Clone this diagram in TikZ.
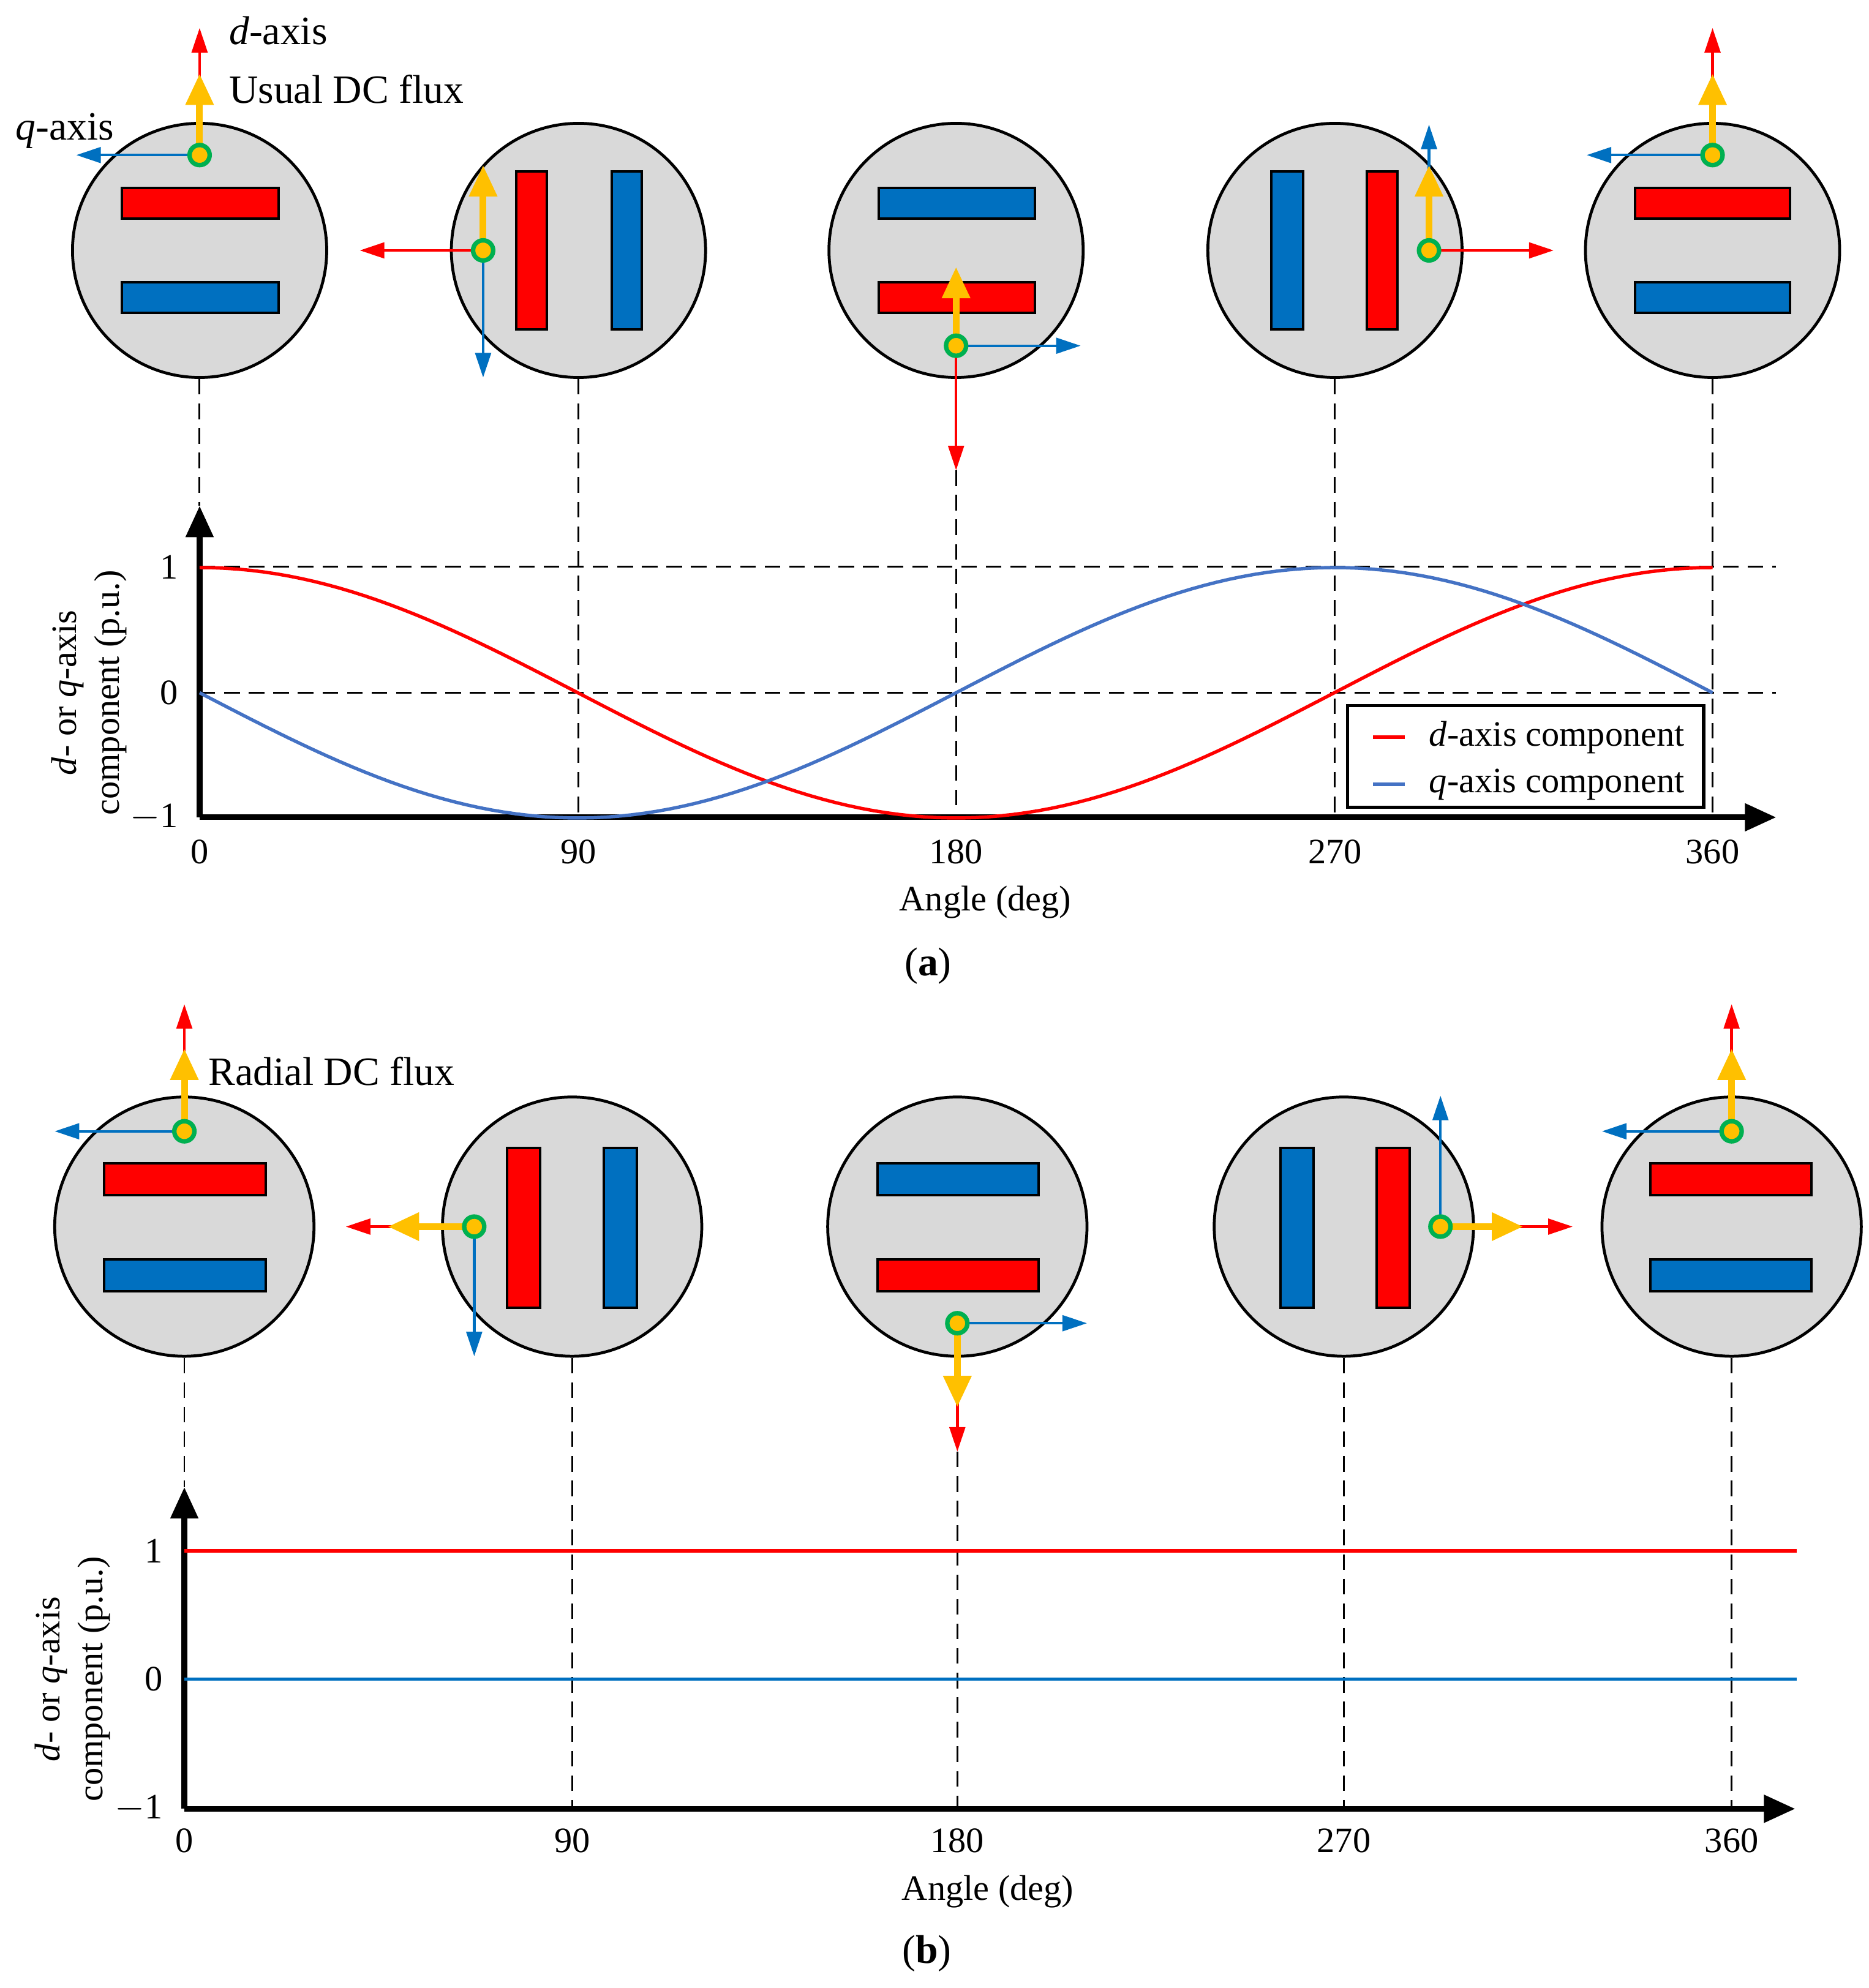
\documentclass[tikz,border=0pt]{standalone}
\usepackage{fontspec}
\setmainfont{Liberation Serif}
\usetikzlibrary{arrows.meta}
\definecolor{dred}{RGB}{255,0,0}
\definecolor{qblue}{RGB}{0,112,192}
\definecolor{cblue}{RGB}{68,114,196}
\definecolor{flux}{RGB}{255,192,0}
\definecolor{dotgreen}{RGB}{0,176,80}
\definecolor{rotor}{RGB}{217,217,217}
\tikzset{
  rotor/.style={circle, draw, line width=1.3pt, fill=rotor, minimum size=4cm, inner sep=0pt},
  pole/.style={draw, line width=1.1pt},
  daxis/.style={dred, line width=1.2pt, -{Triangle[length=11pt,width=7pt]}},
  qaxis/.style={qblue, line width=1.2pt, -{Triangle[length=11pt,width=7pt]}},
  fluxarr/.style={flux, line width=3pt, -{Triangle[length=14pt,width=12pt]}},
  origin/.style={circle, draw=dotgreen, line width=2pt, fill=flux, minimum size=9pt, inner sep=0pt},
  guide/.style={dash pattern=on 7pt off 4pt, line width=0.8pt},
  axis/.style={line width=2.5pt, -{Triangle[length=14pt,width=12pt]}},
  toplbl/.style={anchor=west, font=\fontsize{18}{21}\selectfont},
}
\begin{document}
\begin{tikzpicture}[x=0.02cm, y=-0.02cm, every node/.append style={font=\fontsize{16}{19}\selectfont}]
\useasboundingbox (0,0) rectangle (1470,1564);
% ===== (a) Usual DC flux =====
% Rotors
    \node[rotor] (ra1) at (157,197) {};
    \node[rotor] (ra2) at (455,197) {};
    \node[rotor] (ra3) at (752,197) {};
    \node[rotor] (ra4) at (1050,197) {};
    \node[rotor] (ra5) at (1347,197) {};
% Poles
    \draw[pole, fill=dred]  (96,148) rectangle (219,172);
    \draw[pole, fill=qblue] (96,222) rectangle (219,246);
    \draw[pole, fill=dred]  (406,135) rectangle (430,259);
    \draw[pole, fill=qblue] (481,135) rectangle (505,259);
    \draw[pole, fill=qblue] (691,148) rectangle (814,172);
    \draw[pole, fill=dred]  (691,222) rectangle (814,246);
    \draw[pole, fill=qblue] (1000,135) rectangle (1025,259);
    \draw[pole, fill=dred]  (1075,135) rectangle (1099,259);
    \draw[pole, fill=dred]  (1286,148) rectangle (1408,172);
    \draw[pole, fill=qblue] (1286,222) rectangle (1408,246);
% Frames
    \coordinate (pa1) at (157,122);
    \coordinate (da1) at (157,22);  \coordinate (fa1) at (157,58);  \coordinate (qa1) at (60,122);
    \draw[daxis] (pa1) -- (da1);
    \draw[fluxarr] (pa1) -- (fa1);
    \draw[qaxis] (pa1) -- (qa1);
    \node[origin] (oa1) at (pa1) {};
    \coordinate (pa2) at (380,197);
    \coordinate (da2) at (283,197); \coordinate (fa2) at (380,130); \coordinate (qa2) at (380,297);
    \draw[daxis] (pa2) -- (da2);
    \draw[qaxis] (pa2) -- (qa2);
    \draw[fluxarr] (pa2) -- (fa2);
    \node[origin] (oa2) at (pa2) {};
    \coordinate (pa3) at (752,272);
    \coordinate (da3) at (752,370); \coordinate (fa3) at (752,210); \coordinate (qa3) at (850,272);
    \draw[daxis] (pa3) -- (da3);
    \draw[qaxis] (pa3) -- (qa3);
    \draw[fluxarr] (pa3) -- (fa3);
    \node[origin] (oa3) at (pa3) {};
    \coordinate (pa4) at (1124,197);
    \coordinate (da4) at (1222,197); \coordinate (fa4) at (1124,130); \coordinate (qa4) at (1124,98);
    \draw[daxis] (pa4) -- (da4);
    \draw[qaxis] (pa4) -- (qa4);
    \draw[fluxarr] (pa4) -- (fa4);
    \node[origin] (oa4) at (pa4) {};
    \coordinate (pa5) at (1347,122);
    \coordinate (da5) at (1347,22); \coordinate (fa5) at (1347,58); \coordinate (qa5) at (1248,122);
    \draw[daxis] (pa5) -- (da5);
    \draw[fluxarr] (pa5) -- (fa5);
    \draw[qaxis] (pa5) -- (qa5);
    \node[origin] (oa5) at (pa5) {};
    \node[toplbl] (dlbl) at (174,24) {\textit{d}-axis};
    \node[toplbl] (flbl) at (174,70) {Usual DC flux};
    \node[toplbl] (qlbl) at (6,103) {\textit{q}-axis};
% Guides
    \draw[guide] (ra1.south) -- (157,398);
    \draw[guide] (ra2.south) -- (455,643);
    \draw[guide] (da3) -- (752,643);
    \draw[guide] (ra4.south) -- (1050,643);
    \draw[guide] (ra5.south) -- (1347,643);
    \draw[guide] (157,446) -- (1397,446);
    \draw[guide] (157,545) -- (1397,545);
% Axes
    \coordinate (Oa) at (157,643);
    \draw[axis] (Oa) -- (157,398);
    \draw[axis] (Oa) -- (1397,643);
    \node[anchor=east] (ya1) at (146,446) {1};
    \node[anchor=east] (ya0) at (146,545) {0};
    \node[anchor=east] (yam) at (146,643) {$-$1};
    \node (xa0) at (157,670) {0};
    \node (xa90) at (455,670) {90};
    \node (xa180) at (752,670) {180};
    \node (xa270) at (1050,670) {270};
    \node (xa360) at (1347,670) {360};
    \node (xlbla) at (775,710) {Angle (deg)};
    \node (capa) at (730,760) {\fontsize{18}{21}\selectfont(\textbf{a})};
    \node[rotate=90, align=center] (ylbla) at (70,545) {\textit{d}- or \textit{q}-axis\\component (p.u.)};
% Curves
    \draw[dred, line width=1.5pt, domain=0:360, samples=120] plot ({157+3.3056*\x}, {545-98.5*cos(\x)});
    \draw[cblue, line width=1.5pt, domain=0:360, samples=120] plot ({157+3.3056*\x}, {545+98.5*sin(\x)});
% Legend
    \node[draw, line width=1.5pt, fill=white, minimum width=5.6cm, minimum height=1.6cm] (leg) at (1200,595) {};
    \draw[dred, line width=1.5pt] (1080,580) -- (1105,580);
    \draw[cblue, line width=1.5pt] (1080,617) -- (1105,617);
    \node[anchor=west] (legd) at (1118,580) {\textit{d}-axis component};
    \node[anchor=west] (legq) at (1118,617) {\textit{q}-axis component};
% ===== (b) Radial DC flux =====
% Rotors
    \node[rotor, minimum size=4.08cm] (rb1) at (145,965) {};
    \node[rotor, minimum size=4.08cm] (rb2) at (450,965) {};
    \node[rotor, minimum size=4.08cm] (rb3) at (753,965) {};
    \node[rotor, minimum size=4.08cm] (rb4) at (1057,965) {};
    \node[rotor, minimum size=4.08cm] (rb5) at (1362,965) {};
% Poles
    \draw[pole, fill=dred]  (82,915) rectangle (209,940);
    \draw[pole, fill=qblue] (82,991) rectangle (209,1016);
    \draw[pole, fill=dred]  (399,903) rectangle (425,1029);
    \draw[pole, fill=qblue] (475,903) rectangle (501,1029);
    \draw[pole, fill=qblue] (690,915) rectangle (817,940);
    \draw[pole, fill=dred]  (690,991) rectangle (817,1016);
    \draw[pole, fill=qblue] (1007,903) rectangle (1033,1029);
    \draw[pole, fill=dred]  (1083,903) rectangle (1109,1029);
    \draw[pole, fill=dred]  (1298,915) rectangle (1425,940);
    \draw[pole, fill=qblue] (1298,991) rectangle (1425,1016);
% Frames
    \coordinate (pb1) at (145,890);
    \coordinate (db1) at (145,790); \coordinate (fb1) at (145,825); \coordinate (qb1) at (43,890);
    \draw[daxis] (pb1) -- (db1);
    \draw[fluxarr] (pb1) -- (fb1);
    \draw[qaxis] (pb1) -- (qb1);
    \node[origin] (ob1) at (pb1) {};
    \coordinate (pb2) at (373,965);
    \coordinate (db2) at (272,965); \coordinate (fb2) at (305,965); \coordinate (qb2) at (373,1067);
    \draw[daxis] (pb2) -- (db2);
    \draw[fluxarr] (pb2) -- (fb2);
    \draw[qaxis] (pb2) -- (qb2);
    \node[origin] (ob2) at (pb2) {};
    \coordinate (pb3) at (753,1041);
    \coordinate (db3) at (753,1142); \coordinate (fb3) at (753,1107); \coordinate (qb3) at (855,1041);
    \draw[daxis] (pb3) -- (db3);
    \draw[fluxarr] (pb3) -- (fb3);
    \draw[qaxis] (pb3) -- (qb3);
    \node[origin] (ob3) at (pb3) {};
    \coordinate (pb4) at (1133,965);
    \coordinate (db4) at (1237,965); \coordinate (fb4) at (1198,965); \coordinate (qb4) at (1133,862);
    \draw[daxis] (pb4) -- (db4);
    \draw[fluxarr] (pb4) -- (fb4);
    \draw[qaxis] (pb4) -- (qb4);
    \node[origin] (ob4) at (pb4) {};
    \coordinate (pb5) at (1362,890);
    \coordinate (db5) at (1362,790); \coordinate (fb5) at (1362,825); \coordinate (qb5) at (1260,890);
    \draw[daxis] (pb5) -- (db5);
    \draw[fluxarr] (pb5) -- (fb5);
    \draw[qaxis] (pb5) -- (qb5);
    \node[origin] (ob5) at (pb5) {};
    \node[toplbl] (rlbl) at (158,843) {Radial DC flux};
% Guides
    \draw[guide] (rb1.south) -- (145,1170);
    \draw[guide] (rb2.south) -- (450,1423);
    \draw[guide] (db3) -- (753,1423);
    \draw[guide] (rb4.south) -- (1057,1423);
    \draw[guide] (rb5.south) -- (1362,1423);
% Axes
    \coordinate (Ob) at (145,1423);
    \draw[axis] (Ob) -- (145,1170);
    \draw[axis] (Ob) -- (1412,1423);
    \node[anchor=east] (yb1) at (134,1220) {1};
    \node[anchor=east] (yb0) at (134,1321) {0};
    \node[anchor=east] (ybm) at (134,1423) {$-$1};
    \node (xb0) at (145,1448) {0};
    \node (xb90) at (450,1448) {90};
    \node (xb180) at (753,1448) {180};
    \node (xb270) at (1057,1448) {270};
    \node (xb360) at (1362,1448) {360};
    \node (xlblb) at (777,1488) {Angle (deg)};
    \node (capb) at (729,1537) {\fontsize{18}{21}\selectfont(\textbf{b})};
    \node[rotate=90, align=center] (ylblb) at (57,1321) {\textit{d}- or \textit{q}-axis\\component (p.u.)};
% Curves
    \draw[dred, line width=1.5pt] (145,1220) -- (1413,1220);
    \draw[qblue, line width=1.5pt] (145,1321) -- (1413,1321);
\end{tikzpicture}
\end{document}
